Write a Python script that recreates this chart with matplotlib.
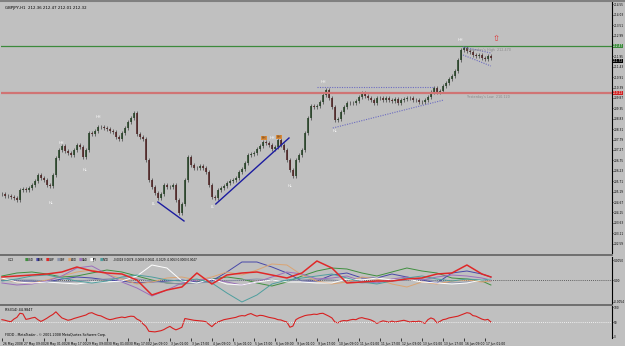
import matplotlib
matplotlib.use("Agg")
import matplotlib.pyplot as plt
import matplotlib.transforms as mtransforms
import numpy as np

# GBPJPY H1 closes, one bar per slot
closes = [205.07, 204.97, 204.97, 204.92, 204.87, 204.77, 205.27, 205.32, 205.27, 205.37,
          205.52, 205.72, 206.02, 205.87, 205.77, 205.52, 205.47, 206.02, 206.87, 207.27,
          207.47, 207.22, 207.12, 207.02, 207.27, 207.52, 207.42, 206.92, 207.27, 208.12,
          208.07, 208.22, 208.42, 208.42, 208.37, 208.32, 208.22, 208.17, 207.92, 207.82,
          208.12, 208.37, 208.67, 208.87, 209.12, 208.07, 207.92, 207.82, 206.77, 205.77,
          205.42, 205.12, 204.87, 205.07, 205.52, 205.42, 205.42, 205.52, 204.77, 204.12,
          204.57, 205.77, 206.92, 206.52, 206.37, 206.37, 206.47, 206.37, 206.17, 205.52,
          204.92, 204.87, 205.27, 205.37, 205.47, 205.62, 205.72, 205.77, 205.87, 206.17,
          206.32, 206.62, 207.02, 207.07, 207.12, 207.32, 207.47, 207.67, 207.62, 207.52,
          207.32, 207.42, 207.77, 207.52, 207.27, 206.77, 206.27, 205.97, 206.77, 207.02,
          207.27, 208.12, 208.87, 209.47, 209.42, 209.47, 209.67, 210.02, 210.27, 209.87,
          209.42, 208.77, 208.82, 209.17, 209.42, 209.62, 209.62, 209.62, 209.72, 209.92,
          210.12, 209.97, 209.87, 209.77, 209.62, 209.87, 209.87, 209.77, 209.87, 209.77,
          209.72, 209.82, 209.62, 209.77, 209.82, 209.87, 209.87, 209.77, 209.77, 209.67,
          209.67, 209.77, 209.92, 210.17, 210.37, 210.17, 210.22, 210.47, 210.62, 210.82,
          210.97, 211.22, 211.77, 212.27, 212.37, 212.22, 212.17, 212.02, 211.97, 212.02,
          211.87, 211.82, 211.97, 211.87]

rsi = [58, 56, 53, 51, 60, 66, 80, 78, 59, 61, 64, 66, 58, 52, 57, 63, 70, 76, 85, 74,
       64, 60, 56, 58, 62, 65, 68, 71, 74, 80, 82, 77, 73, 71, 66, 61, 58, 60, 63, 65,
       67, 65, 68, 70, 69, 60, 55, 44, 35, 18, 17, 16, 18, 20, 24, 30, 35, 28, 23, 27,
       32, 62, 60, 58, 56, 55, 54, 53, 51, 42, 34, 44, 50, 54, 58, 60, 62, 64, 66, 70,
       72, 71, 76, 79, 74, 70, 73, 72, 69, 66, 64, 62, 58, 57, 53, 50, 32, 36, 58, 64,
       68, 72, 74, 75, 77, 76, 79, 80, 75, 70, 64, 50, 47, 53, 55, 54, 57, 59, 58, 63,
       65, 62, 60, 57, 52, 45, 50, 54, 52, 49, 53, 50, 52, 54, 56, 53, 50, 52, 51, 53,
       50, 45, 58, 64, 60, 47, 52, 58, 60, 64, 66, 68, 70, 74, 78, 82, 80, 72, 70, 65,
       60, 57, 59, 50]

# currency strength lines (units of 1e-4), sampled every 5 bars
cci_bars = list(range(0, 161, 5)) + [163]
cci_usd = [10, 17.5, 20, 15, 7.5, 10, 17.5, 25, 20, 10, 0, -7.5, -10, -5, 2.5, 7.5, 2.5,
           -7.5, -15, -5, 10, 22.5, 30, 27.5, 17.5, 10, 20, 30, 22.5, 17.5, 5, 2.5, -2.5, -12.5]
cci_eur = [0, -2.5, -2.5, -5, 2.5, 7.5, 5, 0, -2.5, -7.5, -5, -2.5, 0, -5, -2.5, 20, 45,
           45, 32.5, 17.5, -2.5, -2.5, 12.5, 17.5, 5, 5, 15, 7.5, 0, -7.5, 17.5, 22.5, 15, 7.5]
cci_gbp = [7.5, 10, 12.5, 15, 20, 32.5, 22.5, 17.5, 15, 0, -37.5, -25, -17.5, 17.5, -10,
           12.5, 17.5, 20, 12.5, 5, 17.5, 47.5, 30, -7.5, -5, -2.5, -2.5, 2.5, 5, 15, 17.5,
           37.5, 15, 7.5]
cci_chf = [2.5, 0, 0, -2.5, -5, -2.5, 0, 2.5, 5, 2.5, -2.5, -7.5, -10, -7.5, -5, -2.5, 0,
           2.5, 0, -2.5, 0, 2.5, 0, -2.5, -7.5, -5, -2.5, 0, 2.5, -2.5, -7.5, -5, -2.5, -2.5]
cci_aud = [2.5, -5, -7.5, 0, 10, 20, 25, 15, 2.5, -10, -5, 5, 7.5, 0, 7.5, 20, 12.5, 25,
           40, 37.5, 12.5, -2.5, -10, -5, 7.5, 2.5, -10, -17.5, -5, -10, -2.5, 0, -5, -2.5]
cci_cad = [-7.5, -12.5, -10, -2.5, 10, 30, 35, 15, -5, -20, -40, -25, -7.5, 0, 2.5, -5,
           -12.5, -5, 7.5, 20, 15, 2.5, 5, 10, -2.5, -7.5, 2.5, 7.5, 0, 7.5, 12.5, 10, 5, 0]
cci_jpy = [5, -5, -7.5, -5, -7.5, -10, -5, -5, -2.5, 10, 37.5, 30, -2.5, -7.5, 2.5, -10,
           -12.5, -5, 0, -5, -5, -7.5, -7.5, 2.5, 0, 5, 0, 2.5, -5, -7.5, -10, -7.5, 0, 2.5]
cci_nzd = [-2.5, 2.5, 10, 12.5, 5, -2.5, -7.5, -2.5, 7.5, 12.5, 7.5, 0, -2.5, 2.5, -7.5,
           -32.5, -55, -37.5, -10, 0, 5, 10, 15, 5, -5, -10, -2.5, 5, 10, 2.5, -2.5, 2.5, 0, 2.5]

currencies = ["USD", "EUR", "GBP", "CHF", "AUD", "CAD", "JPY", "NZD"]
cci_now = ["-0.0018", "0.0078", "-0.0009", "0.0041", "-0.0029", "-0.0063", "0.0000", "0.0047"]

time_labels = ["26 May 2008", "27 May 09:00", "28 May 01:00", "28 May 17:00", "29 May 09:00",
               "30 May 01:00", "30 May 17:00", "2 Jun 09:00", "3 Jun 01:00", "3 Jun 17:00",
               "4 Jun 09:00", "5 Jun 01:00", "5 Jun 17:00", "6 Jun 09:00", "9 Jun 01:00",
               "9 Jun 17:00", "10 Jun 09:00", "11 Jun 01:00", "11 Jun 17:00", "12 Jun 09:00",
               "13 Jun 01:00", "13 Jun 17:00", "16 Jun 09:00", "17 Jun 01:00"]

yest_high = 212.47
yest_low = 210.12
last_price = 211.72

# chart objects drawn by hand on the terminal (bar, price)
trend_lines = [((52, 204.67), (60.7, 203.72)), ((71.3, 204.57), (95.7, 207.87))]
dotted_lines = [((105, 210.42), (143.7, 210.42)), ((110.3, 208.37), (147.3, 209.77)),
                ((153.7, 212.42), (163, 212.12)), ((153.7, 212.02), (163, 211.47))]
swing_labels = [(16.3, 204.62, "HL"), (19.7, 207.62, "HH"), (27.7, 206.27, "HL"),
                (32.3, 208.92, "HH"), (50.7, 204.57, "LL"), (70.3, 204.42, "LL"),
                (90, 207.87, "HH"), (96, 205.47, "HL"), (107.3, 210.67, "HH"),
                (111, 208.22, "HL"), (152.7, 212.77, "HH")]

BG = "#c0c0c0"
cci_colors = {"USD": "#3f8f3f", "EUR": "#4848a8", "GBP": "#e02828", "CHF": "#8a92aa",
              "AUD": "#dba472", "CAD": "#9c6fbb", "JPY": "#ffffff", "NZD": "#4e9e9e"}
cci_series = {"USD": cci_usd, "EUR": cci_eur, "GBP": cci_gbp, "CHF": cci_chf,
              "AUD": cci_aud, "CAD": cci_cad, "JPY": cci_jpy, "NZD": cci_nzd}

fig = plt.figure(figsize=(6.25, 3.46), dpi=100, facecolor=BG)
W, H = 625.0, 346.0
RX = 611.5

def rect(x0, y0, x1, y1):
    return [x0 / W, 1 - y1 / H, (x1 - x0) / W, (y1 - y0) / H]

ax = fig.add_axes(rect(1, 2, RX, 253))
ax_c = fig.add_axes(rect(1, 257, RX, 304), sharex=ax)
ax_r = fig.add_axes(rect(1, 306, RX, 338), sharex=ax)

for a in (ax, ax_c, ax_r):
    a.set_facecolor(BG)
    for s in ("top", "left", "bottom"):
        a.spines[s].set_visible(False)
    a.spines["right"].set_color("black")
    a.spines["right"].set_linewidth(0.8)
    a.yaxis.tick_right()
    a.tick_params(axis="y", length=1.0, width=0.5, labelsize=2.1, pad=0.4, colors="black")

x = np.arange(len(closes))
c = np.array(closes)
o = np.concatenate([[c[0]], c[:-1]])
up = c >= o
ax.vlines(x, np.minimum(o, c) - 0.1, np.maximum(o, c) + 0.1, color="#202020", lw=0.4)
ax.vlines(x[up], o[up], c[up] + 0.02, color="#1f3d1f", lw=1.1)
ax.vlines(x[~up], c[~up], o[~up] + 0.02, color="#4a1c1c", lw=1.1)

ax.axhline(yest_high, color="#3c8a3c", lw=0.9)
ax.axhline(yest_low, color="#d07474", lw=1.6)
ax.text(155, yest_high - 0.1, "Yesterday's High  212.470", fontsize=2.4, color="#8a8a8a", va="top")
ax.text(155, yest_low - 0.1, "Yesterday's Low  210.120", fontsize=2.4, color="#8a8a8a", va="top")

for (x0, y0), (x1, y1) in trend_lines:
    ax.plot([x0, x1], [y0, y1], color="#1c1ca0", lw=1.0)
for (x0, y0), (x1, y1) in dotted_lines:
    ax.plot([x0, x1], [y0, y1], color="#6c6cc0", lw=0.8, ls=(0, (1, 1.2)))
for bx, py, t in swing_labels:
    ax.text(bx, py, t, fontsize=2.6, color="white", ha="center", va="center")
for bx, py in [(87.3, 207.87), (92.3, 207.92)]:
    ax.text(bx, py, "HH", fontsize=2.2, color="#503010", ha="center", va="center",
            bbox=dict(boxstyle="square,pad=0.15", fc="#d88a3a", ec="none"))
ax.text(164.7, 212.82, "\u21e7", fontsize=6, color="#e03030", ha="center", va="center")
ax.text(0.006, 0.985, "GBPJPY,H1  212.36 212.47 212.01 212.32", transform=ax.transAxes,
        fontsize=2.8, color="black", va="top")

price_ticks = [round(yest_high + 0.52 * m, 2) for m in range(-19, 5)]
ax.set_yticks(price_ticks)
ax.set_yticklabels(["%.2f" % p for p in price_ticks])
ax.set_ylim(202.12, 214.67)
ax.set_xlim(-0.3, 203.2)
plt.setp(ax.get_xticklabels(), visible=False)
ax.tick_params(axis="x", length=0)

for val, fc in [(yest_high, "#3c8a3c"), (last_price, "black"), (yest_low, "#d02020")]:
    ax.annotate("%.2f" % val, xy=(1, val), xycoords=("axes fraction", "data"),
                xytext=(1.0, 0), textcoords="offset points", fontsize=2.1, color="white",
                va="center", ha="left",
                bbox=dict(boxstyle="square,pad=0.12", fc=fc, ec="none"))

# CCI panel
cb = np.array(cci_bars)
for cur in currencies:
    lw = 1.1 if cur == "GBP" else 0.7
    ax_c.plot(cb, np.array(cci_series[cur]) * 1e-4, color=cci_colors[cur], lw=lw,
              zorder=3 if cur == "GBP" else 2)
ax_c.axhline(0, color="#404040", lw=0.6, ls=(0, (1, 1.5)), zorder=1)
ax_c.set_ylim(-0.006, 0.00575)
ax_c.set_yticks([0.005, 0.0, -0.0054])
ax_c.set_yticklabels(["0.0050", "0.00", "-0.0054"])
ax_c.text(2, 0.0051, "CCI", fontsize=2.6, color="black", va="center")
for k, cur in enumerate(currencies):
    bx = 7.5 + 3.6 * k
    ax_c.text(bx, 0.0051, "\u25a0", fontsize=2.6, color=cci_colors[cur], va="center")
    ax_c.text(bx + 1.0, 0.0051, cur, fontsize=2.0, color="black", va="center")
ax_c.text(37, 0.0051, " ".join(cci_now), fontsize=2.0, color="black", va="center")
plt.setp(ax_c.get_xticklabels(), visible=False)
ax_c.tick_params(axis="x", length=0)

# RSI panel
ax_r.plot(np.arange(len(rsi)), rsi, color="#d82020", lw=0.8)
ax_r.axhline(50, color="white", lw=0.6, ls=(0, (1, 1.5)))
ax_r.set_ylim(-5, 105)
ax_r.set_yticks([100, 50, 0])
ax_r.set_yticklabels(["100", "50", "0"])
ax_r.text(1, 99, "RSI(14) 44.9847", fontsize=2.4, color="black", va="top")
ax_r.text(1, -1, "FXDD - MetaTrader - \u00a9 2001-2008 MetaQuotes Software Corp.",
          fontsize=2.3, color="black", va="bottom")
tick_bars = [7 * k for k in range(len(time_labels))]
ax_r.set_xticks(tick_bars)
ax_r.set_xticklabels(time_labels, ha="left")
ax_r.tick_params(axis="x", length=2.5, width=0.5, labelsize=2.2, pad=0.3, direction="out")
offset = mtransforms.ScaledTranslation(1.5 / 100, 0, fig.dpi_scale_trans)
for lab in ax_r.get_xticklabels():
    lab.set_transform(lab.get_transform() + offset)

# panel separators
for yy in (254.5, 305):
    fig.add_artist(plt.Line2D([0, RX / W], [1 - yy / H, 1 - yy / H], color="#606060", lw=1.2))
fig.add_artist(plt.Line2D([0, 1], [1 - 0.5 / H, 1 - 0.5 / H], color="#808080", lw=1.5))

fig.savefig("out.png", dpi=100, facecolor=BG)
